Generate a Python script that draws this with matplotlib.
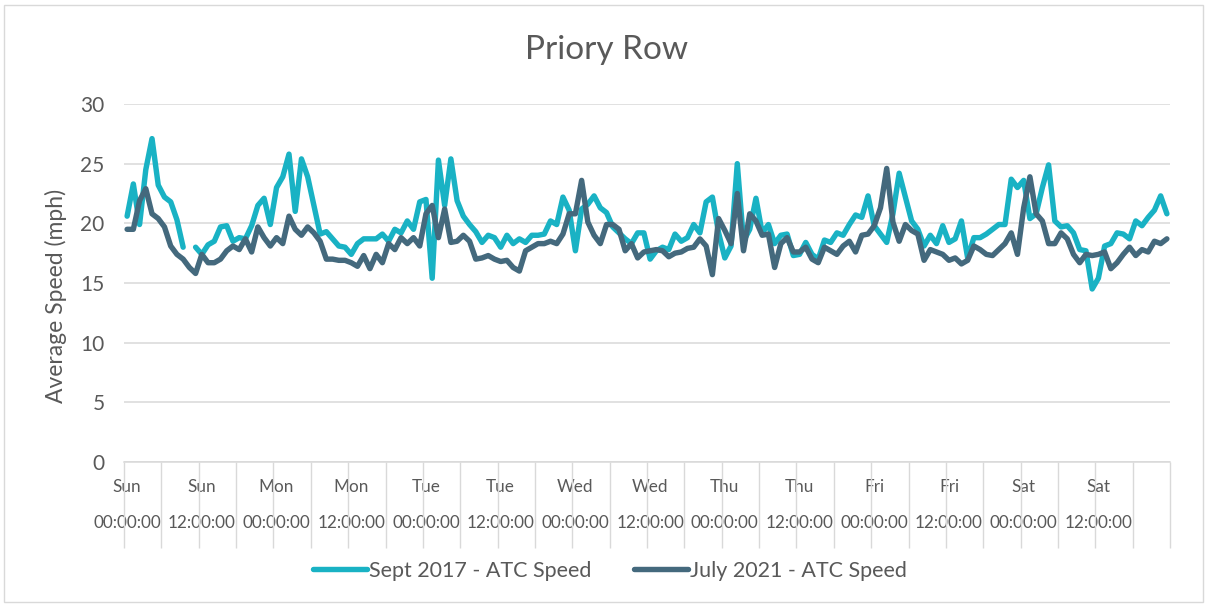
import numpy as np
import matplotlib
matplotlib.use('Agg')
import matplotlib.pyplot as plt
from matplotlib.patches import Rectangle

plt.rcParams['font.family'] = ['Lato', 'DejaVu Sans']

nan = np.nan

# hourly average speed, Sunday 00:00 -> Saturday 23:00 (168 hours)
sept_2017 = [
    20.6, 23.3, 19.9, 24.5, 27.1, 23.2, 22.2, 21.8, 20.3, 18.0, nan, 18.0,
    17.4, 18.2, 18.5, 19.7, 19.8, 18.5, 18.8, 18.7, 19.8, 21.5, 22.1, 19.9,
    23.0, 23.9, 25.8, 21.0, 25.4, 23.9, 21.5, 19.1, 19.3, 18.7, 18.1, 18.0,
    17.4, 18.3, 18.7, 18.7, 18.7, 19.1, 18.5, 19.5, 19.2, 20.2, 19.5, 21.8,
    22.0, 15.4, 25.3, 21.5, 25.4, 21.9, 20.6, 19.9, 19.3, 18.4, 19.0, 18.8,
    18.0, 19.0, 18.3, 18.7, 18.4, 19.0, 19.0, 19.1, 20.2, 19.9, 22.2, 21.1,
    17.7, 21.2, 21.6, 22.3, 21.3, 20.9, 19.7, 19.2, 18.7, 18.3, 19.2, 19.2,
    17.0, 17.7, 18.0, 17.8, 19.1, 18.5, 18.8, 19.9, 19.2, 21.8, 22.2, 19.2,
    17.1, 18.1, 25.0, 18.5, 19.5, 22.1, 19.2, 19.9, 18.3, 19.0, 19.1, 17.3,
    17.4, 18.4, 17.4, 17.0, 18.6, 18.4, 19.2, 19.0, 19.9, 20.7, 20.5, 22.3,
    19.8, 19.1, 18.4, 20.8, 24.2, 22.2, 20.2, 19.5, 18.1, 19.0, 18.3, 19.8,
    18.4, 18.7, 20.2, 17.1, 18.8, 18.8, 19.1, 19.5, 19.9, 19.9, 23.7, 23.0,
    23.6, 20.4, 20.8, 23.0, 24.9, 20.2, 19.7, 19.8, 19.2, 17.8, 17.7, 14.5,
    15.4, 18.1, 18.3, 19.2, 19.1, 18.7, 20.2, 19.8, 20.5, 21.1, 22.3, 20.8,
]

july_2021 = [
    19.5, 19.5, 21.9, 22.9, 20.8, 20.4, 19.7, 18.1, 17.4, 17.0, 16.3, 15.8,
    17.4, 16.7, 16.7, 17.0, 17.7, 18.1, 17.8, 18.7, 17.6, 19.7, 18.8, 18.1,
    18.8, 18.3, 20.6, 19.5, 19.0, 19.7, 19.2, 18.5, 17.0, 17.0, 16.9, 16.9,
    16.7, 16.4, 17.3, 16.2, 17.4, 16.7, 18.3, 17.8, 18.8, 18.3, 18.8, 18.1,
    20.8, 21.5, 18.8, 21.2, 18.4, 18.5, 19.0, 18.5, 17.0, 17.1, 17.3, 17.0,
    16.8, 16.9, 16.3, 16.0, 17.7, 18.0, 18.3, 18.3, 18.5, 18.3, 19.1, 20.8,
    20.8, 23.6, 20.1, 19.0, 18.3, 19.9, 19.9, 19.5, 17.7, 18.3, 17.1, 17.6,
    17.7, 17.8, 17.7, 17.2, 17.5, 17.6, 17.9, 18.0, 18.7, 18.1, 15.7, 20.4,
    19.4, 18.3, 22.5, 17.7, 20.8, 20.2, 19.0, 19.1, 16.3, 18.3, 18.8, 17.6,
    17.6, 18.0, 17.0, 16.7, 18.0, 17.7, 17.4, 18.1, 18.5, 17.6, 19.0, 19.1,
    19.8, 21.3, 24.6, 20.1, 18.5, 19.9, 19.4, 19.1, 16.9, 17.8, 17.6, 17.4,
    16.9, 17.1, 16.6, 16.9, 18.1, 17.8, 17.4, 17.3, 17.8, 18.3, 19.2, 17.4,
    21.3, 23.9, 20.8, 20.2, 18.3, 18.3, 19.2, 18.7, 17.4, 16.7, 17.4, 17.3,
    17.4, 17.6, 16.2, 16.7, 17.4, 18.0, 17.3, 17.8, 17.6, 18.5, 18.3, 18.7,
]

days = ['Sun', 'Sun', 'Mon', 'Mon', 'Tue', 'Tue', 'Wed', 'Wed',
        'Thu', 'Thu', 'Fri', 'Fri', 'Sat', 'Sat']
times = ['00:00:00', '12:00:00'] * 7

TEAL = '#19B2C4'
DARK = '#44697D'
GREY_TXT = '#595959'
GRID = '#D9D9D9'

hours = np.arange(len(sept_2017))

fig = plt.figure(figsize=(12.08, 6.06), dpi=100)
ax = fig.add_axes([124/1208, 1 - 462/606, 1046/1208, 358/606])

ax.plot(hours, sept_2017, color=TEAL, lw=3.9, solid_joinstyle='round',
        solid_capstyle='round', label='Sept 2017 - ATC Speed', zorder=3)
ax.plot(hours, july_2021, color=DARK, lw=3.9, solid_joinstyle='round',
        solid_capstyle='round', label='July 2021 - ATC Speed', zorder=3)

ax.set_xlim(-0.5, len(hours) - 0.5)
ax.set_ylim(0, 30)
ax.set_yticks(range(0, 31, 5))
ax.grid(True, axis='y', color=GRID, lw=1.1, zorder=0)
ax.set_axisbelow(True)

for s in ['top', 'right', 'left']:
    ax.spines[s].set_visible(False)
ax.spines['bottom'].set_color(GRID)
ax.spines['bottom'].set_linewidth(1.1)

ax.set_xticks(np.arange(0, len(hours), 12))
ax.set_xticklabels([f'{d}\n\n{t}' for d, t in zip(days, times)],
                   linespacing=1.15)
ax.set_xticks(np.arange(-0.5, len(hours), 6), minor=True)
ax.tick_params(axis='x', which='major', length=0, pad=12,
               labelsize=12.3, labelcolor=GREY_TXT)
ax.tick_params(axis='x', which='minor', length=62, width=1.0, color=GRID,
               direction='out')
ax.tick_params(axis='y', length=0, pad=14, labelsize=15,
               labelcolor=GREY_TXT)

fig.text(607/1208, 1 - 50/606, 'Priory Row', ha='center', va='center',
         fontsize=24, color=GREY_TXT)
fig.text(56/1208, 1 - 296/606, 'Average Speed (mph)', rotation=90,
         ha='center', va='center', fontsize=16.5, color=GREY_TXT)

fig.legend(loc='center', bbox_to_anchor=(610/1208, 1 - 571/606), ncol=2,
           frameon=False, fontsize=15.5, handlelength=2.5,
           handletextpad=0.1, columnspacing=2.0, labelcolor=GREY_TXT)

fig.patches.append(Rectangle((4/1208, 4/606), 1199/1208, 597/606,
                             transform=fig.transFigure, fill=False,
                             edgecolor=GRID, lw=1.0))

fig.savefig('out.png', dpi=100, facecolor='white')
